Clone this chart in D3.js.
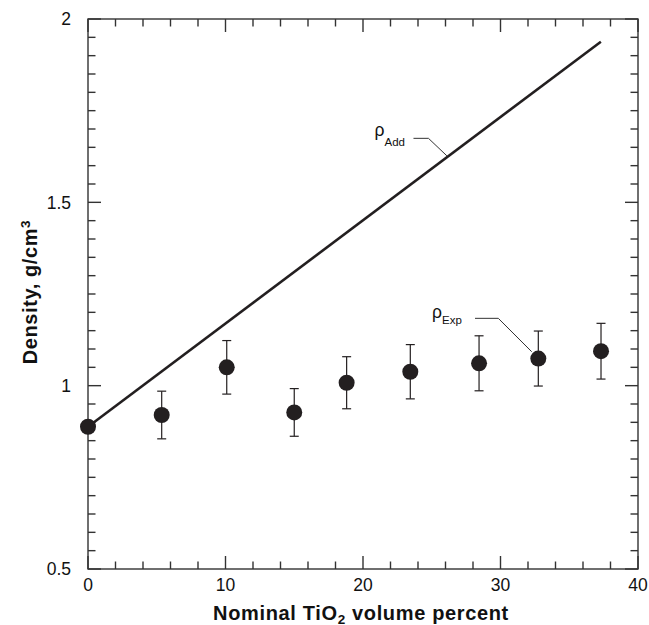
<!DOCTYPE html>
<html>
<head>
<meta charset="utf-8">
<script src="https://cdn.jsdelivr.net/npm/d3@7"></script>
<style>
  html, body { margin: 0; padding: 0; background: #fff; }
  svg { display: block; }
  text { font-family: "Liberation Sans", Arial, Helvetica, sans-serif; fill: #111; }
</style>
</head>
<body>
<svg id="chart" width="649" height="625"></svg>
<script>
// Measured density of the TiO2 composites, with error bars
const tio2Pct    = [0, 5.36, 10.09, 15.0, 18.81, 23.44, 28.44, 32.75, 37.31];
const densityExp = [0.888, 0.92, 1.05, 0.927, 1.008, 1.038, 1.061, 1.074, 1.094];
const densityErr = [0, 0.065, 0.073, 0.065, 0.071, 0.074, 0.075, 0.075, 0.076];

// Additive (rule-of-mixtures) density line
const addX = [0, 37.3];
const addY = [0.888, 1.938];

// Axis ticks
const xMajor = [0, 10, 20, 30, 40];
const xMinor = d3.range(0, 40.001, 2);
const yMajor = [0.5, 1, 1.5, 2];
const yMinor = d3.range(0.5, 2.0001, 0.05);

const svg = d3.select("#chart");
const M = { left: 88, right: 638, top: 19, bottom: 569 };
const ink = "#231f20";
const axisInk = "#333";

const x = d3.scaleLinear().domain([0, 40]).range([M.left, M.right]);
const y = d3.scaleLinear().domain([0.5, 2]).range([M.bottom, M.top]);

const majorLen = 13, minorLen = 7.5;

// Frame
svg.append("rect")
  .attr("x", M.left).attr("y", M.top)
  .attr("width", M.right - M.left).attr("height", M.bottom - M.top)
  .attr("fill", "none").attr("stroke", axisInk).attr("stroke-width", 1.4);

// Inward ticks on all four sides
const tickG = svg.append("g").attr("stroke", axisInk).attr("stroke-width", 1.4);
function isMajor(v, list) { return list.some(m => Math.abs(m - v) < 1e-6); }
xMinor.forEach(v => {
  const L = isMajor(v, xMajor) ? majorLen : minorLen;
  tickG.append("line").attr("x1", x(v)).attr("x2", x(v)).attr("y1", M.bottom).attr("y2", M.bottom - L);
  tickG.append("line").attr("x1", x(v)).attr("x2", x(v)).attr("y1", M.top).attr("y2", M.top + L);
});
yMinor.forEach(v => {
  const L = isMajor(v, yMajor) ? majorLen : minorLen;
  tickG.append("line").attr("y1", y(v)).attr("y2", y(v)).attr("x1", M.left).attr("x2", M.left + L);
  tickG.append("line").attr("y1", y(v)).attr("y2", y(v)).attr("x1", M.right).attr("x2", M.right - L);
});

// Tick labels
svg.append("g").selectAll("text").data(xMajor).join("text")
  .attr("x", d => x(d)).attr("y", 591)
  .attr("text-anchor", "middle").attr("font-size", 17.5)
  .text(d => d3.format("d")(d));
svg.append("g").selectAll("text").data(yMajor).join("text")
  .attr("x", 71).attr("y", d => y(d) + 6.3)
  .attr("text-anchor", "end").attr("font-size", 17.5)
  .text(d => String(d));

// Axis titles
const xt = svg.append("text")
  .attr("x", (M.left + M.right) / 2 - 2).attr("y", 619.5)
  .attr("text-anchor", "middle").attr("font-size", 20).attr("font-weight", "bold")
  .attr("letter-spacing", 0.65);
xt.append("tspan").text("Nominal TiO");
xt.append("tspan").attr("font-size", 13.5).attr("dy", 4).text("2");
xt.append("tspan").attr("dy", -4).text(" volume percent");

const yt = svg.append("text")
  .attr("transform", `translate(36.5, ${(M.top + M.bottom) / 2 - 2}) rotate(-90)`)
  .attr("text-anchor", "middle").attr("font-size", 20).attr("font-weight", "bold")
  .attr("letter-spacing", 0.6);
yt.append("tspan").text("Density, g/cm");
yt.append("tspan").attr("font-size", 13.5).attr("dy", -7).text("3");

// Additive line
const line = d3.line().x(d => x(d[0])).y(d => y(d[1]));
svg.append("path")
  .datum(d3.zip(addX, addY))
  .attr("d", line)
  .attr("fill", "none").attr("stroke", ink).attr("stroke-width", 2.6);

// Error bars
const eb = svg.append("g").attr("stroke", ink).attr("stroke-width", 1.2);
tio2Pct.forEach((t, i) => {
  const e = densityErr[i];
  if (!e) return;
  const cx = x(t), y1 = y(densityExp[i] + e), y0 = y(densityExp[i] - e);
  eb.append("line").attr("x1", cx).attr("x2", cx).attr("y1", y1).attr("y2", y0);
  eb.append("line").attr("x1", cx - 4.5).attr("x2", cx + 4.5).attr("y1", y1).attr("y2", y1);
  eb.append("line").attr("x1", cx - 4.5).attr("x2", cx + 4.5).attr("y1", y0).attr("y2", y0);
});

// Markers
svg.append("g").selectAll("circle").data(tio2Pct).join("circle")
  .attr("cx", d => x(d)).attr("cy", (d, i) => y(densityExp[i]))
  .attr("r", 8).attr("fill", ink);

// Annotation: rho_Add leader line to the additive line
const addFrac = 26.1;
const addAt = [x(addFrac), y(addY[0] + (addY[1] - addY[0]) * addFrac / addX[1])];
const addElbow = [addAt[0] - 18.4, addAt[1] - 19];
svg.append("polyline")
  .attr("points", [[addAt[0], addAt[1] - 1.5], addElbow, [addElbow[0] - 15, addElbow[1]]].map(p => p.join(",")).join(" "))
  .attr("fill", "none").attr("stroke", axisInk).attr("stroke-width", 1);
const la = svg.append("text").attr("x", 374.5).attr("y", addElbow[1] - 2.5).attr("font-size", 17.5);
la.append("tspan").text("ρ");
la.append("tspan").attr("font-size", 11.5).attr("dy", 10).text("Add");

// Annotation: rho_Exp leader line to the measured point at ~33 %
const expAt = [x(tio2Pct[7]) - 6.6, y(densityExp[7]) - 6.8];
const expElbow = [expAt[0] - 33.4, expAt[1] - 33.4];
svg.append("polyline")
  .attr("points", [expAt, expElbow, [expElbow[0] - 23.3, expElbow[1]]].map(p => p.join(",")).join(" "))
  .attr("fill", "none").attr("stroke", axisInk).attr("stroke-width", 1);
const le = svg.append("text").attr("x", 432).attr("y", expElbow[1] - 0.5).attr("font-size", 17.5);
le.append("tspan").text("ρ");
le.append("tspan").attr("font-size", 11.5).attr("dy", 6).text("Exp");
</script>
</body>
</html>
